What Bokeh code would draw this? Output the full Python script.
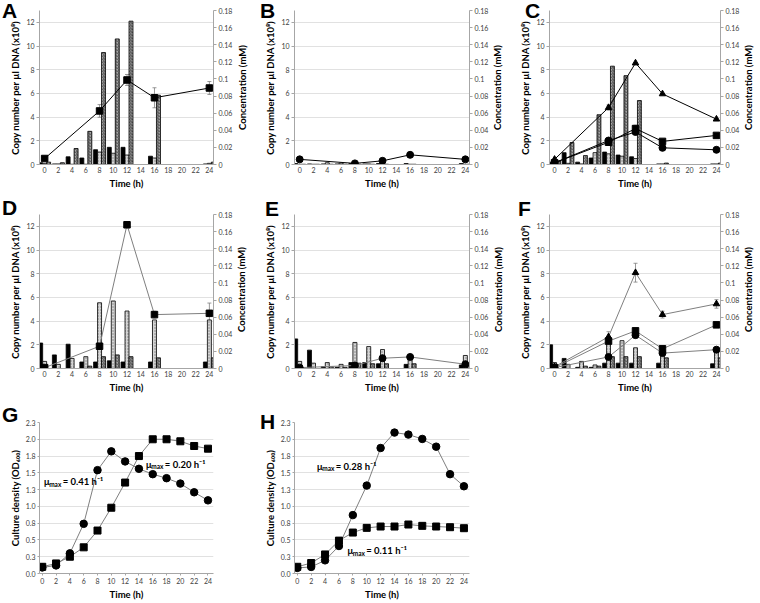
from bokeh.plotting import figure
from bokeh.models import (Range1d, LinearAxis, FixedTicker, Label, Whisker,
                          ColumnDataSource, TeeHead, GridBox, Div)
from bokeh.transform import dodge
from bokeh.embed import file_html
from bokeh.resources import INLINE

# ---------------- data ----------------
bar_times = [0, 2, 4, 6, 8, 10, 12, 16, 24]
line_times = [0, 8, 12, 16, 24]
time_ticks = [0, 2, 4, 6, 8, 10, 12, 14, 16, 18, 20, 22, 24]
copy_ticks = [0, 2, 4, 6, 8, 10, 12]
conc_ticks = [0, 0.02, 0.04, 0.06, 0.08, 0.1, 0.12, 0.14, 0.16, 0.18]
conc_labels = ["0", "0.02", "0.04", "0.06", "0.08", "0.1", "0.12", "0.14", "0.16", "0.18"]
od_ticks = [0, 0.25, 0.5, 0.75, 1.0, 1.25, 1.5, 1.75, 2.0, 2.25]
od_labels = ["0.0", "0.3", "0.5", "0.8", "1.0", "1.3", "1.5", "1.8", "2.0", "2.3"]

# panel A
A_black = [0.15, 0.05, 0.65, 0.55, 1.25, 1.45, 1.45, 0.7, 0.05]
A_gray = [0.1, 0.05, 0.02, 0.02, 1.05, 0.95, 0.8, 0.55, 0.1]
A_hatch = [0.2, 0.15, 1.35, 2.8, 9.45, 10.6, 12.1, 5.85, 0.2]
A_square = [0.007, 0.0626, 0.0988, 0.078, 0.0894]
A_square_err = [0, 0.0074, 0.0064, 0.0117, 0.0076]

# panel B
B_black = [0.08, 0.05, 0.05, 0.05, 0.08, 0.05, 0.08, 0.08, 0.08]
B_gray = [0.02, 0.02, 0.15, 0.12, 0.08, 0.05, 0.02, 0.02, 0.02]
B_hatch = [0.02, 0.02, 0.02, 0.02, 0.02, 0.02, 0.02, 0.02, 0.02]
B_circle = [0.006, 0.0013, 0.0043, 0.0113, 0.006]

# panel C
C_black = [0.2, 1.0, 0.2, 0.55, 1.05, 0.8, 0.65, 0.05, 0.05]
C_gray = [0.1, 0.1, 0.05, 1.0, 0.9, 0.7, 0.5, 0.05, 0.05]
C_hatch = [0.3, 1.85, 0.75, 4.2, 8.3, 7.5, 5.4, 0.12, 0.12]
C_triangle = [0.006, 0.0665, 0.1186, 0.0825, 0.053]
C_triangle_err = [0, 0.003, 0, 0, 0]
C_square = [0.002, 0.026, 0.042, 0.027, 0.034]
C_square_err = [0, 0, 0.004, 0, 0]
C_circle = [0.002, 0.028, 0.038, 0.0195, 0.0172]

# panel D
D_black = [2.15, 1.15, 2.05, 0.55, 0.55, 0.65, 0.55, 0.55, 0.55]
D_gray = [0.6, 0.35, 0.85, 1.0, 5.55, 5.7, 4.85, 4.1, 4.1]
D_hatch = [0.0, 0.0, 0.0, 0.2, 1.0, 1.15, 1.0, 0.9, 0.9]
D_square = [0.001, 0.026, 0.168, 0.063, 0.0645]
D_square_err = [0, 0.002, 0.003, 0.004, 0.012]

# panel E
E_black = [2.5, 1.55, 0.15, 0.1, 0.5, 0.5, 0.4, 0.35, 0.3]
E_gray = [0.6, 0.45, 0.5, 0.35, 2.2, 1.85, 1.6, 1.0, 1.1]
E_hatch = [0.0, 0.0, 0.15, 0.1, 0.45, 0.4, 0.4, 0.4, 0.3]
E_circle = [0.001, 0.0035, 0.012, 0.0135, 0.005]

# panel F
F_black = [2.0, 0.85, 0.1, 0.1, 0.45, 0.45, 0.45, 0.45, 0.4]
F_gray = [0.5, 0.35, 0.6, 0.3, 2.1, 2.35, 1.75, 1.2, 1.4]
F_hatch = [0.0, 0.0, 0.2, 0.2, 1.0, 1.0, 1.0, 0.9, 0.9]
F_triangle = [0.002, 0.037, 0.112, 0.063, 0.0755]
F_triangle_err = [0, 0.006, 0.011, 0.004, 0.005]
F_square = [0.001, 0.032, 0.044, 0.023, 0.051]
F_square_err = [0, 0.005, 0.002, 0, 0]
F_circle = [0.001, 0.0135, 0.039, 0.018, 0.022]

# panels G, H (growth)
growth_times = [0, 2, 4, 6, 8, 10, 12, 14, 16, 18, 20, 22, 24]
G_circle = [0.09, 0.12, 0.30, 0.74, 1.54, 1.82, 1.67, 1.56, 1.48, 1.42, 1.34, 1.21, 1.09]
G_square = [0.10, 0.15, 0.25, 0.39, 0.64, 0.98, 1.355, 1.75, 2.0, 2.0, 1.97, 1.9, 1.86]
H_circle = [0.083, 0.098, 0.196, 0.41, 0.87, 1.31, 1.87, 2.10, 2.07, 2.005, 1.89, 1.48, 1.30]
H_square = [0.10, 0.156, 0.284, 0.49, 0.61, 0.68, 0.70, 0.70, 0.73, 0.71, 0.70, 0.69, 0.675]
G_rates = ["0.41", "0.20"]
H_rates = ["0.28", "0.11"]

# ---------------- style ----------------
FONT = "Lato"
LETTER_FONT = "'Liberation Sans', Arial, sans-serif"
AX = "#a6a6a6"
TICK_TXT = "#404040"
GRID = "#d9d9d9"
BW = 0.58


def style_axis(ax, label, ticks, labels=None, tick_out=3):
    ax.axis_label = label
    ax.ticker = FixedTicker(ticks=ticks)
    if labels:
        ax.major_label_overrides = {t: l for t, l in zip(ticks, labels)}
    ax.axis_line_color = AX
    ax.major_tick_line_color = AX if tick_out else None
    ax.major_tick_in = 0
    ax.major_tick_out = tick_out
    ax.minor_tick_line_color = None
    ax.major_label_text_font = FONT
    ax.major_label_text_font_size = "7px"
    ax.major_label_text_color = TICK_TXT
    ax.major_label_standoff = 2
    ax.axis_label_text_font = FONT
    ax.axis_label_text_font_size = "9.5px"
    ax.axis_label_text_font_style = "bold"
    ax.axis_label_text_color = "black"
    ax.axis_label_standoff = 2


def base_fig(geom, xr, yr):
    w, h, bl, br, bt, bb = geom
    p = figure(width=w, height=h, min_border_left=bl, min_border_right=br,
               min_border_top=bt, min_border_bottom=bb,
               x_range=Range1d(*xr), y_range=Range1d(*yr),
               output_backend="svg", toolbar_location=None)
    p.outline_line_color = None
    p.xgrid.visible = False
    p.ygrid.grid_line_color = GRID
    p.ygrid.grid_line_width = 0.8
    return p


def letter_div(letter, top, left):
    return Div(text=letter, width=24, height=24, margin=(top, 0, 0, left),
               styles={"font-family": LETTER_FONT, "font-size": "21px",
                       "font-weight": "bold", "line-height": "1", "color": "black"})


def vertical_div(text, cx, cy, length=110):
    # text reading bottom-to-top, centred at (cx, cy) of its grid cell
    return Div(text=text, width=12, height=length,
               margin=(int(cy - length / 2), 0, 0, int(cx - 6)),
               styles={"font-family": FONT, "font-size": "9.5px", "font-weight": "bold",
                       "color": "black", "line-height": "12px", "white-space": "nowrap",
                       "writing-mode": "vertical-rl", "transform": "rotate(180deg)",
                       "text-align": "center"})


def bar_panel(geom, black, gray, hatch, lines, line_color):
    xr = (-0.75, 24.6)
    yr = (0, 13)
    p = base_fig(geom, xr, yr)
    p.extra_y_ranges = {"conc": Range1d(0, 0.18)}
    style_axis(p.xaxis[0], "Time (h)", time_ticks, tick_out=0)
    style_axis(p.yaxis[0], "Copy number per \u00b5l DNA (x10\u2078)", copy_ticks)
    rax = LinearAxis(y_range_name="conc")
    style_axis(rax, None, conc_ticks, conc_labels)
    p.add_layout(rax, "right")

    src = ColumnDataSource(dict(t=bar_times, black=black, gray=gray, hatch=hatch))
    p.vbar(x=dodge("t", -BW, range=p.x_range), top="black", width=BW, source=src,
           fill_color="black", line_color="black", line_width=0.8)
    p.vbar(x="t", top="gray", width=BW, source=src, fill_color="#d4d4d4",
           line_color="black", line_width=0.8, hatch_pattern="dot",
           hatch_color="#7f7f7f", hatch_scale=3, hatch_weight=0.8)
    p.vbar(x=dodge("t", BW, range=p.x_range), top="hatch", width=BW, source=src,
           fill_color="#a6a6a6", line_color="black", line_width=0.8,
           hatch_pattern="right_diagonal_line", hatch_color="#3a3a3a",
           hatch_scale=3, hatch_weight=0.8)

    for marker, vals, errs in lines:
        if errs is not None:
            et = [t for t, e in zip(line_times, errs) if e > 0]
            lo = [v - e for v, e in zip(vals, errs) if e > 0]
            up = [v + e for v, e in zip(vals, errs) if e > 0]
            es = ColumnDataSource(dict(t=et, lo=lo, up=up))
            p.add_layout(Whisker(source=es, base="t", lower="lo", upper="up",
                                 y_range_name="conc", line_color="#7f7f7f", line_width=0.8,
                                 upper_head=TeeHead(size=4, line_color="#7f7f7f", line_width=0.8),
                                 lower_head=TeeHead(size=4, line_color="#7f7f7f", line_width=0.8)))
        p.line(line_times, vals, y_range_name="conc", line_color=line_color, line_width=1)
        size = {"square": 6.5, "circle": 7, "triangle": 6.5}[marker]
        p.scatter(line_times, vals, marker=marker, size=size, y_range_name="conc",
                  fill_color="black", line_color="black")
    return p


def mu_label(p, x, y, rate):
    common = dict(x=x, y=y, text_baseline="middle", text_align="left",
                  text_font=FONT, text_font_style="bold", text_color="black")
    p.add_layout(Label(text="\u00b5", text_font_size="9.5px", **common))
    p.add_layout(Label(text="max", text_font_size="6.5px", x_offset=5.5, y_offset=-2.5, **common))
    p.add_layout(Label(text="= " + rate + " h\u207b\u00b9", text_font_size="9.5px",
                       x_offset=19, **common))


def growth_panel(geom, circ, sq, notes):
    xr = (-0.4, 24.8)
    yr = (0, 2.25)
    p = base_fig(geom, xr, yr)
    style_axis(p.xaxis[0], "Time (h)", time_ticks, tick_out=2)
    style_axis(p.yaxis[0], "Culture density (OD\u2086\u2080\u2080)", od_ticks, od_labels, tick_out=2)
    p.line(growth_times, circ, line_color="#7f7f7f", line_width=1)
    p.line(growth_times, sq, line_color="#7f7f7f", line_width=1)
    p.scatter(growth_times, circ, marker="circle", size=7.5, fill_color="black", line_color="black")
    p.scatter(growth_times, sq, marker="square", size=7, fill_color="black", line_color="black")
    for x, y, rate in notes:
        mu_label(p, x, y, rate)
    return p


# geometry: (width, height, border_left, border_right, border_top, border_bottom)
g_a = (260, 203, 39, 47, 10, 39)
g_b = (255, 203, 34, 45, 10, 39)
g_c = (244, 203, 34, 38, 10, 39)
g_d = (260, 197, 39, 47, 11, 32)
g_e = (255, 197, 34, 46, 11, 32)
g_f = (244, 197, 34, 39, 11, 32)
g_g = (260, 202, 33, 41, 22, 27)
g_h = (255, 202, 31, 37, 22, 27)

pA = bar_panel(g_a, A_black, A_gray, A_hatch, [("square", A_square, A_square_err)], "black")
pB = bar_panel(g_b, B_black, B_gray, B_hatch, [("circle", B_circle, None)], "black")
pC = bar_panel(g_c, C_black, C_gray, C_hatch,
               [("triangle", C_triangle, C_triangle_err),
                ("square", C_square, C_square_err),
                ("circle", C_circle, None)], "black")
pD = bar_panel(g_d, D_black, D_gray, D_hatch, [("square", D_square, D_square_err)], "#7f7f7f")
pE = bar_panel(g_e, E_black, E_gray, E_hatch, [("circle", E_circle, None)], "#7f7f7f")
pF = bar_panel(g_f, F_black, F_gray, F_hatch,
               [("triangle", F_triangle, F_triangle_err),
                ("square", F_square, F_square_err),
                ("circle", F_circle, None)], "#7f7f7f")
pG = growth_panel(g_g, G_circle, G_square, [(0.2, 1.37, G_rates[0]), (15.0, 1.63, G_rates[1])])
pH = growth_panel(g_h, H_circle, H_square, [(2.8, 1.60, H_rates[0]), (7.2, 0.34, H_rates[1])])

CONC = "Concentration (mM)"
children = [
    (pA, 0, 0), (letter_div("A", 0, 2), 0, 0), (vertical_div(CONC, 243, 88), 0, 0),
    (pB, 0, 1), (letter_div("B", 0, 0), 0, 1), (vertical_div(CONC, 238, 88), 0, 1),
    (pC, 0, 2), (letter_div("C", 0, 10), 0, 2), (vertical_div(CONC, 234, 88), 0, 2),
    (pD, 1, 0), (letter_div("D", -6, 2), 1, 0), (vertical_div(CONC, 242, 87), 1, 0),
    (pE, 1, 1), (letter_div("E", -5, 5), 1, 1), (vertical_div(CONC, 239, 87), 1, 1),
    (pF, 1, 2), (letter_div("F", -5, 3), 1, 2), (vertical_div(CONC, 234, 87), 1, 2),
    (pG, 2, 0), (letter_div("G", 4, 2), 2, 0),
    (pH, 2, 1), (letter_div("H", 11, 0), 2, 1),
]
layout = GridBox(children=children, spacing=0)
open("out.html", "w").write(file_html(layout, INLINE))
